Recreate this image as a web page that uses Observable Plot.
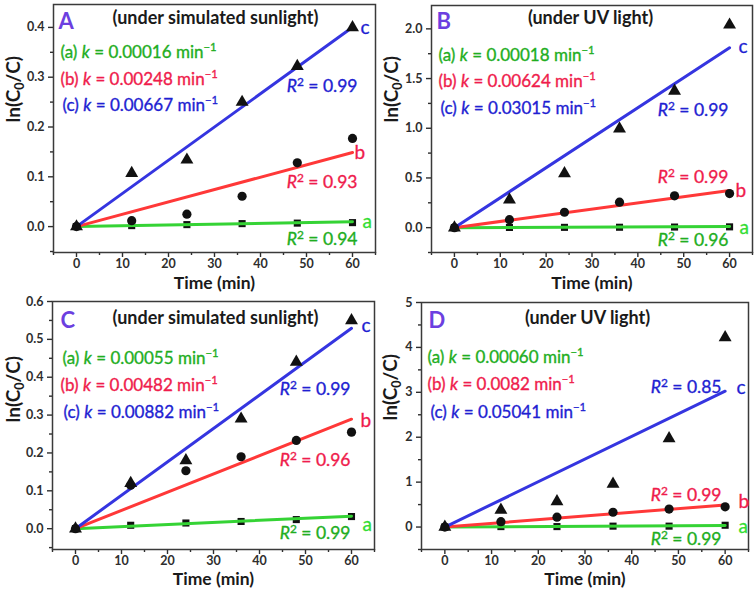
<!DOCTYPE html>
<html><head><meta charset="utf-8">
<script src="https://cdn.jsdelivr.net/npm/d3@7"></script>
<script src="https://cdn.jsdelivr.net/npm/@observablehq/plot@0.6"></script>
<style>
body{margin:0;background:#fff;}
#fig{position:relative;width:756px;height:591px;overflow:hidden;}
#fig svg{position:absolute;}
</style></head><body><div id="fig"></div>
<script>
// ---------- data ----------
const time = [0, 12, 24, 36, 48, 60];
const xTicks = [0, 10, 20, 30, 40, 50, 60];
const xMinor = [-5, 5, 15, 25, 35, 45, 55, 65];
const seriesNames = ["a", "b", "c"];

// Panel A (under simulated sunlight)
const sqA = [0, 0.002, 0.004, 0.006, 0.007, 0.008];
const ciA = [0, 0.012, 0.025, 0.061, 0.128, 0.177];
const trA = [0, 0.107, 0.134, 0.250, 0.322, 0.400];
const kA = ["0.00016", "0.00248", "0.00667"];
const r2A = ["0.94", "0.93", "0.99"];
const yTicksA = [0, 0.1, 0.2, 0.3, 0.4];
const yMinorA = [-0.05, 0.05, 0.15, 0.25, 0.35];

// Panel B (under UV light)
const sqB = [0, 0.002, 0.003, 0.004, 0.006, 0.008];
const ciB = [0, 0.08, 0.155, 0.256, 0.32, 0.343];
const trB = [0, 0.28, 0.545, 0.995, 1.375, 2.04];
const kB = ["0.00018", "0.00624", "0.03015"];
const r2B = ["0.96", "0.99", "0.99"];
const yTicksB = [0, 0.5, 1.0, 1.5, 2.0];
const yMinorB = [-0.25, 0.25, 0.75, 1.25, 1.75];

// Panel C (under simulated sunlight)
const sqC = [0, 0.009, 0.015, 0.019, 0.024, 0.032];
const ciC = [0, 0.115, 0.153, 0.19, 0.233, 0.255];
const trC = [0, 0.12, 0.18, 0.29, 0.44, 0.55];
const kC = ["0.00055", "0.00482", "0.00882"];
const r2C = ["0.99", "0.96", "0.99"];
const yTicksC = [0, 0.1, 0.2, 0.3, 0.4, 0.5, 0.6];
const yMinorC = [-0.05, 0.05, 0.15, 0.25, 0.35, 0.45, 0.55];

// Panel D (under UV light)
const sqD = [0, 0.01, 0.01, 0.02, 0.02, 0.04];
const ciD = [0, 0.12, 0.22, 0.33, 0.40, 0.45];
const trD = [0, 0.38, 0.57, 0.96, 1.97, 4.22];
const kD = ["0.00060", "0.0082", "0.05041"];
const r2D = ["0.99", "0.99", "0.85"];
const yTicksD = [0, 1, 2, 3, 4, 5];
const yMinorD = [-0.5, 0.5, 1.5, 2.5, 3.5, 4.5];

const panelLetters = ["A", "B", "C", "D"];
const panelTitles = ["(under simulated sunlight)", "(under UV light)", "(under simulated sunlight)", "(under UV light)"];
const xLabel = "Time (min)";
const yLabel = "ln(C₀/C)";

// ---------- styles ----------
const FONT = "Lato, 'Open Sans', sans-serif";
const LINE = ["#35d335", "#ff3838", "#3535e0"];
const TXT = ["#1fae1f", "#ef1c4c", "#1f1fd2"];
const LETTER = ["#33dd33", "#ef1c4c", "#1f1fd2"];
const PURPLE = "#6c3fe0";
const AXIS = "#2e2e2e";

function panel(cfg) {
  const {left, top, w, h, ml, mr, mt, mb, yDomain, yTicks, yMinor, yFmt, sq, ci, tr, k, r2, idx, L} = cfg;
  const pts = arr => time.map((t, i) => ({t, v: arr[i]}));
  const fit = kv => [{t: 0, v: 0}, {t: 60, v: 60 * (+kv)}];
  const T = (text, x, y, o) => Plot.text([text], {text: d => d, frameAnchor: "top-left", dx: x - ml, dy: y - mt, lineAnchor: "middle", fontFamily: FONT, ...o});
  const marks = [
    Plot.axisX({ticks: xTicks, tickSize: 5, tickPadding: 2, tickFormat: d3.format("d"), label: null, fontSize: 12.5, fontWeight: "bold", color: AXIS, strokeWidth: 1.4}),
    Plot.axisX({ticks: xMinor, tickSize: 3, text: null, label: null, color: AXIS, strokeWidth: 1.4}),
    Plot.axisY({ticks: yTicks, tickSize: 5, tickPadding: 4, tickFormat: d3.format(yFmt), label: null, fontSize: 12.5, fontWeight: "bold", color: AXIS, strokeWidth: 1.4}),
    Plot.axisY({ticks: yMinor, tickSize: 3, text: null, label: null, color: AXIS, strokeWidth: 1.4}),
    Plot.frame({stroke: "#3a3a3a", strokeWidth: 1.5}),
    Plot.dot(pts(sq), {x: "t", y: "v", symbol: "square", r: 4, fill: "#111"}),
    ...k.map((kv, i) => Plot.line(fit(kv), {x: "t", y: "v", stroke: LINE[i], strokeWidth: 3})),
    Plot.dot(pts(ci), {x: "t", y: "v", symbol: "circle", r: 4.6, fill: "#111"}),
    Plot.dot(pts(tr), {x: "t", y: "v", symbol: "triangle", r: 4.8, fill: "#111"}),
    // axis labels
    Plot.text([yLabel], {text: d => d, frameAnchor: "left", rotate: -90, dx: L.ylab[0] - ml, dy: L.ylab[1] - (mt + (h - mt - mb) / 2), fontSize: 19, fontWeight: "bold", fill: "#1a1a1a", fontFamily: FONT}),
    Plot.text([xLabel], {text: d => d, frameAnchor: "bottom", dy: L.xlab, lineAnchor: "middle", fontSize: 17.5, fontWeight: "bold", fill: "#1a1a1a", fontFamily: FONT}),
    // panel letter & title
    T(panelLetters[idx], L.letter[0], L.letter[1], {textAnchor: "start", fontSize: 22, fontWeight: "bold", fill: PURPLE}),
    T(panelTitles[idx], L.title[0], L.title[1], {textAnchor: "middle", fontSize: 18, fontWeight: "bold", fill: "#1a1a1a"}),
    // rate constants
    ...k.map((kv, i) => T(`(${seriesNames[i]}) k = ${kv} min⁻¹`, L.k[i][0], L.k[i][1], {textAnchor: "start", fontSize: 17, fill: TXT[i], stroke: TXT[i], strokeWidth: 0.35})),
    // R² labels
    ...r2.map((rv, i) => T(`R² = ${rv}`, L.r2[i][0], L.r2[i][1], {textAnchor: "end", fontSize: 17.5, fill: TXT[i], stroke: TXT[i], strokeWidth: 0.35})),
    // series letters
    ...seriesNames.map((s, i) => T(s, L.ser[i][0], L.ser[i][1], {textAnchor: "start", fontSize: 19, fill: LETTER[i], stroke: LETTER[i], strokeWidth: 0.3}))
  ];
  const svg = Plot.plot({
    width: w, height: h,
    marginLeft: ml, marginRight: mr, marginTop: mt, marginBottom: mb,
    style: {fontFamily: FONT, background: "transparent", overflow: "visible"},
    x: {domain: [-5, 65]},
    y: {domain: yDomain},
    marks
  });
  svg.style.left = left + "px";
  svg.style.top = top + "px";
  return svg;
}

function richify(svg) {
  const NS = "http://www.w3.org/2000/svg";
  for (const t of svg.querySelectorAll("text")) {
    if (t.querySelector("tspan")) continue;
    const s = t.textContent;
    if (!/k =|R²|⁻¹|₀/.test(s)) continue;
    const fs = parseFloat(getComputedStyle(t).fontSize) || 16;
    const parts = s.split(/(k(?= =)|R(?=²)|²|⁻¹|₀)/).filter(p => p);
    t.textContent = "";
    let shift = 0;
    for (const p of parts) {
      const ts = document.createElementNS(NS, "tspan");
      if (p === "k" || p === "R") {
        ts.setAttribute("font-style", "italic");
        ts.textContent = p;
      } else if (p === "⁻¹") {
        ts.textContent = "−1";
        ts.setAttribute("font-size", fs * 0.66);
        ts.setAttribute("dy", -fs * 0.38);
        shift += -fs * 0.38;
      } else if (p === "²") {
        ts.textContent = "2";
        ts.setAttribute("font-size", fs * 0.68);
        ts.setAttribute("dy", -fs * 0.36);
        shift += -fs * 0.36;
      } else if (p === "₀") {
        ts.textContent = "0";
        ts.setAttribute("font-size", fs * 0.66);
        ts.setAttribute("dy", fs * 0.22);
        shift += fs * 0.22;
      } else {
        if (shift) { ts.setAttribute("dy", -shift); shift = 0; }
        ts.textContent = p;
      }
      t.appendChild(ts);
    }
  }
}

const fig = document.getElementById("fig");
const panels = [
  panel({left: 0, top: 0, w: 378, h: 295, ml: 53, mr: 3, mt: 4, mb: 43, yDomain: [-0.052, 0.446], yTicks: yTicksA, yMinor: yMinorA, yFmt: ".1f",
    sq: sqA, ci: ciA, tr: trA, k: kA, r2: r2A, idx: 0,
    L: {ylab: [13, 122], xlab: 31, letter: [58, 21], title: [215, 18],
        k: [[60, 52], [60, 79], [62, 105]], r2: [[357, 239], [357, 182], [357, 86]], ser: [[362, 221], [354, 152], [360, 27]]}}),
  panel({left: 378, top: 0, w: 378, h: 295, ml: 53, mr: 4, mt: 5, mb: 43, yDomain: [-0.25, 2.235], yTicks: yTicksB, yMinor: yMinorB, yFmt: ".1f",
    sq: sqB, ci: ciB, tr: trB, k: kB, r2: r2B, idx: 1,
    L: {ylab: [13, 122], xlab: 31, letter: [58, 21], title: [212, 18],
        k: [[60, 55], [60, 81], [62, 108]], r2: [[350, 240], [350, 177], [350, 110]], ser: [[361, 227], [357, 190], [360, 46]]}}),
  panel({left: 0, top: 295, w: 378, h: 296, ml: 52, mr: 4, mt: 6, mb: 42, yDomain: [-0.055, 0.6], yTicks: yTicksC, yMinor: yMinorC, yFmt: ".1f",
    sq: sqC, ci: ciC, tr: trC, k: kC, r2: r2C, idx: 2,
    L: {ylab: [13, 127], xlab: 30, letter: [60, 25], title: [215, 23],
        k: [[62, 63], [60, 90], [63, 117]], r2: [[350, 238], [350, 165], [350, 94]], ser: [[362, 229], [360, 125], [361, 30]]}}),
  panel({left: 378, top: 295, w: 378, h: 296, ml: 43, mr: 8, mt: 7, mb: 42, yDomain: [-0.5, 5], yTicks: yTicksD, yMinor: yMinorD, yFmt: "d",
    sq: sqD, ci: ciD, tr: trD, k: kD, r2: r2D, idx: 3,
    L: {ylab: [12, 125], xlab: 30, letter: [50, 25], title: [209, 23],
        k: [[49, 62], [49, 89], [52, 117]], r2: [[343, 244], [343, 200], [343, 92]], ser: [[360, 231], [360, 206], [358, 92]]}})
];
for (const p of panels) { fig.appendChild(p); richify(p); }
</script>
</body></html>
